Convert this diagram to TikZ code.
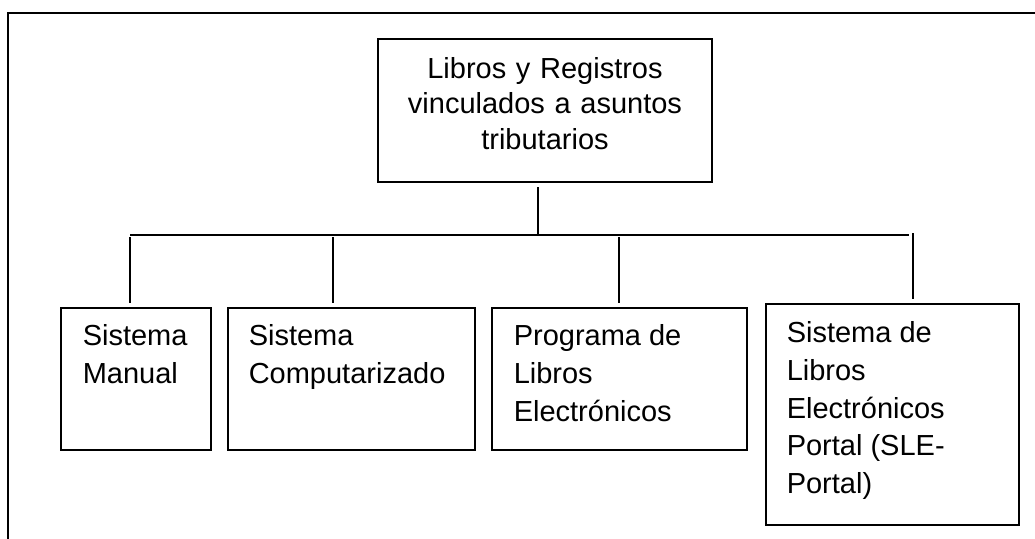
\documentclass[tikz,border=0pt]{standalone}
\usepackage{fontspec}
\setmainfont{Liberation Sans}
\newcommand\boxfont{\fontsize{29}{37.7}\selectfont}
\newcommand\topfont{\fontsize{29}{35.5}\selectfont}
\newcommand\celltext[3]{\hspace*{#1}\parbox[t]{#2}{\raggedright #3}}
\begin{document}
\begin{tikzpicture}[x=1pt,y=-1pt,
  cell/.style={draw, line width=1.5pt, inner sep=0pt, anchor=north west, font=\boxfont},
  headbox/.style={draw, line width=2pt, inner sep=0pt, anchor=north west, align=center, font=\topfont},
  conn/.style={line width=1.5pt},
  frame/.style={line width=2pt}]
\useasboundingbox (0,0) rectangle (1035,538);
\clip (0,0) rectangle (1035,538);
% outer frame (only left and top edges fall inside the picture)
\coordinate (fa) at (7.5,545);
\coordinate (fb) at (7.5,13);
\coordinate (fc) at (1045,13);
\draw[frame] (fa) -- (fb) -- (fc);
% head box
\node[headbox, text width=334pt, text height=39pt, text depth=104pt] (top) at (377,38)
  {Libros y Registros\\vinculados a asuntos\\tributarios};
% child boxes
\node[cell, text height=38pt, text depth=104pt] (b1) at (60,307)
  {\celltext{22pt}{128pt}{Sistema\\Manual}};
\node[cell, text height=38pt, text depth=104pt] (b2) at (227,307)
  {\celltext{21pt}{226pt}{Sistema\\Computarizado}};
\node[cell, text height=38pt, text depth=104pt] (b3) at (491,307)
  {\celltext{22pt}{233pt}{Programa de\\Libros\\Electrónicos}};
\node[cell, text height=39pt, text depth=182pt] (b4) at (765,303)
  {\celltext{21pt}{232pt}{Sistema de\\Libros\\Electrónicos\\Portal (SLE-\\Portal)}};
% bus
\coordinate (j0) at (538,235);
\coordinate (j1) at (130,235);
\coordinate (j2) at (333,235);
\coordinate (j3) at (619,235);
\coordinate (j4) at (913,235);
\coordinate (jend) at (909,235);
\draw[conn, shorten <=4pt, shorten >=1pt] (top.south -| j0) -- (j0);
\draw[conn] (j1) -- (jend);
\draw[conn, shorten <=2pt, shorten >=4pt] (j1) -- (j1 |- b1.north);
\draw[conn, shorten <=2pt, shorten >=4pt] (j2) -- (j2 |- b2.north);
\draw[conn, shorten <=2pt, shorten >=4pt] (j3) -- (j3 |- b3.north);
\draw[conn, shorten <=-2pt, shorten >=4pt] (j4) -- (j4 |- b4.north);
\end{tikzpicture}
\end{document}
